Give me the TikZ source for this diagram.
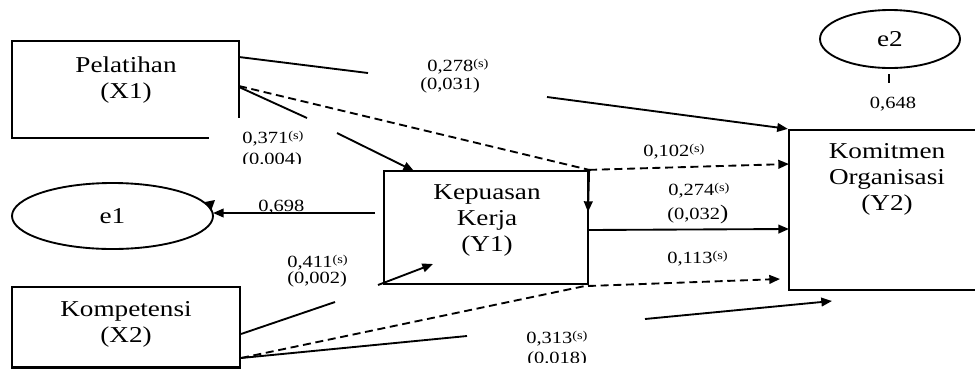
\documentclass[tikz,border=0pt]{standalone}
\usepackage{fontspec}
\setmainfont{Liberation Serif}[FakeStretch=1.2]
\usetikzlibrary{arrows.meta,shapes.geometric}
\newcommand{\sgn}{\raisebox{3pt}{\fontsize{9}{10}\selectfont(s)}}
\begin{document}
\begin{tikzpicture}[x=0.75pt,y=-0.75pt,
  boxline/.style={line width=1.7pt},
  conn/.style={line width=1.4pt},
  dconn/.style={line width=1.4pt, dash pattern=on 6pt off 3.5pt},
  tip/.style={-{Triangle[length=8pt,width=6.5pt]}},
  mainlbl/.style={font=\fontsize{17}{19.3}\selectfont, align=center, anchor=north, inner sep=0pt},
  coef/.style={font=\fontsize{12.8}{14}\selectfont, inner sep=0pt, anchor=base west},
  ell/.style={ellipse, draw, line width=1.4pt, inner sep=0pt, font=\fontsize{17}{19}\selectfont},
]
\useasboundingbox (0,0) rectangle (975,369);
\clip (0,0) rectangle (975,369);

% boxes and ellipses
\node[minimum width=170.25pt, minimum height=72.75pt, inner sep=0pt] (X1) at (125.5,89.5) {};
\draw[boxline] (X1.south west) ++(197,0) -- (X1.south west) -- (X1.north west) -- (X1.north east) -- ++(0,77);
\node[draw, boxline, minimum width=171pt, minimum height=60.4pt, inner sep=0pt] (X2) at (126,327.2) {};
\node[draw, boxline, minimum width=153pt, minimum height=84.75pt, inner sep=0pt] (Y1) at (486,227.5) {};
\node[draw, boxline, minimum width=150.75pt, minimum height=120pt, inner sep=0pt] (Y2) at (889.5,210) {};
\node[ell, minimum width=150.75pt, minimum height=49.5pt] (e1) at (112.5,216) {e1};
\node[ell, minimum width=105pt, minimum height=43.5pt] (e2) at (890,39) {e2};

\node[mainlbl] (X1t) at (126,56.5) {Pelatihan\\(X1)};
\node[mainlbl] (X2t) at (126,301.5) {Kompetensi\\(X2)};
\node[mainlbl] (Y1t) at (487,184.5) {Kepuasan\\Kerja\\(Y1)};
\node[mainlbl] (Y2t) at (887,143.5) {Komitmen\\Organisasi\\(Y2)};

% connector end points
\coordinate (a1) at (239,57);  \coordinate (a2) at (368,73);  \coordinate (a3) at (547,97);
\coordinate (b1) at (239,87);  \coordinate (b2) at (307,118); \coordinate (b3) at (337,133); \coordinate (b4) at (414,171);
\coordinate (c1) at (239,86);  \coordinate (c2) at (789,164); \coordinate (c3) at (588,212);
\coordinate (d1) at (588,230); \coordinate (d2) at (789,229);
\coordinate (f1) at (375,213); \coordinate (f2) at (213,213);
\coordinate (g1) at (241,334); \coordinate (g2) at (335,302); \coordinate (g3) at (378,285); \coordinate (g4) at (433,264);
\coordinate (h1) at (241,358); \coordinate (h2) at (588,286); \coordinate (h3) at (780,279);
\coordinate (k1) at (467,336); \coordinate (k2) at (645,319); \coordinate (k3) at (832,301);
\coordinate (t1) at (889,74);  \coordinate (t2) at (889,83);

% connectors
\draw[conn] (a1) -- (a2);
\draw[conn, tip] (a3) -- (Y2.north west);
\draw[conn] (b1) -- (b2);
\draw[conn, tip] (b3) -- (b4);
\draw[dconn] (c1) -- (Y1.north east);
\draw[dconn, tip] (Y1.north east) -- (c2);
\draw[conn, tip] (Y1.north east) -- (c3);
\draw[conn, tip] (d1) -- (d2);
\draw[conn, tip] (f1) -- (f2);
\fill (205,202) -- (215,200) -- (211,211) -- cycle;
\draw[conn] (g1) -- (g2);
\draw[conn, tip] (g3) -- (g4);
\draw[dconn] (h1) -- (Y1.south east);
\draw[dconn, tip] (h2) -- (h3);
\draw[conn] (h1) -- (k1);
\draw[conn, tip] (k2) -- (k3);
\draw[conn] (t1) -- (t2);

% coefficients
\node[coef] (l278) at (427,71) {0,278\sgn};
\node[coef] (l031) at (420,89.5) {(0,031)};
\begin{scope}
\clip (230,125) rectangle (320,163);
\node[coef] (l371) at (242,143) {0,371\sgn};
\node[coef] (l004) at (242,164) {(0.004)};
\end{scope}
\node[coef] (l102) at (643,156) {0,102\sgn};
\node[coef] (l274) at (668,195) {0,274\sgn};
\node[coef] (l032) at (667,219) {(0,032{\fontsize{15.5}{16}\selectfont )}};
\node[coef] (l698) at (258,211) {0,698};
\node[coef] (l411) at (287,267) {0,411\sgn};
\node[coef] (l002) at (287,283) {(0,002)};
\node[coef] (l113) at (667,263) {0,113\sgn};
\begin{scope}
\clip (500,320) rectangle (620,362);
\node[coef] (l313) at (526,343) {0,313\sgn};
\node[coef] (l018) at (527,363) {(0.018)};
\end{scope}
\node[coef, anchor=base] (l648) at (893,108) {0,648};
\end{tikzpicture}
\end{document}
